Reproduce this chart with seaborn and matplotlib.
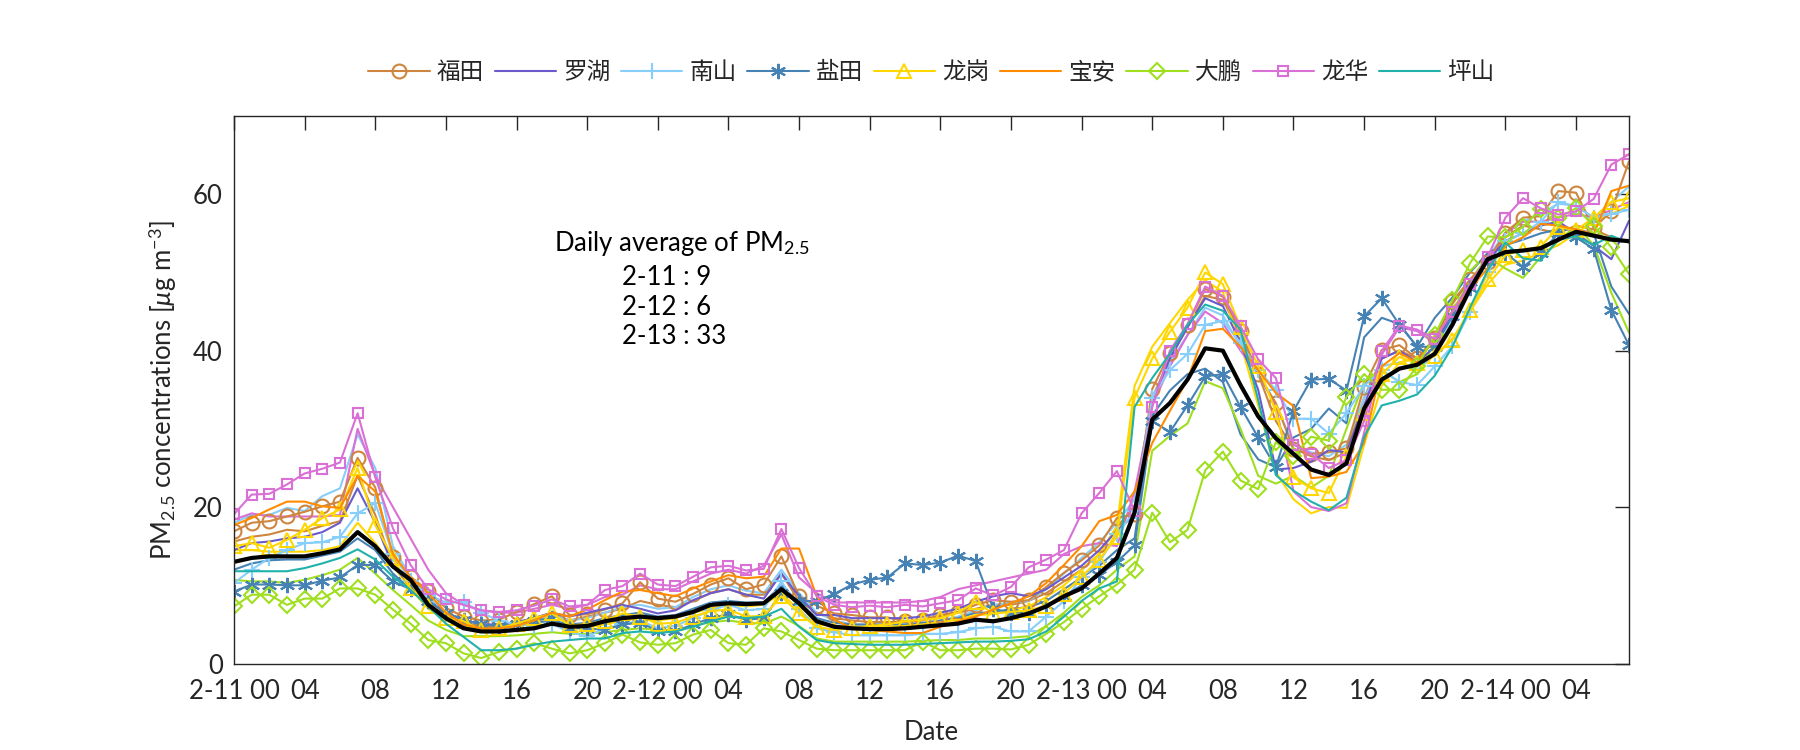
import matplotlib
matplotlib.use("Agg")
import matplotlib.pyplot as plt
import seaborn as sns
import pandas as pd

# ---------------- data ----------------
hours = list(range(80))
tick_pos = list(range(0, 80, 4))
tick_labels = ['2-11 00', '04', '08', '12', '16', '20',
               '2-12 00', '04', '08', '12', '16', '20',
               '2-13 00', '04', '08', '12', '16', '20',
               '2-14 00', '04']

station_names = ['福田', '罗湖', '南山', '盐田', '龙岗', '宝安', '大鹏', '龙华', '坪山']

futian = [16.9, 18.0, 18.2, 18.8, 19.4, 20.1, 20.7, 26.3, 22.5, 13.6, 11.1, 9.3, 7.1, 6.0, 5.5, 5.6, 6.6,
          7.6, 8.6, 6.2, 6.3, 6.9, 7.7, 10.4, 8.3, 7.9, 8.9, 10.1, 10.9, 9.5, 10.1, 13.7, 8.6,
          7.4, 6.4, 6.2, 5.9, 5.9, 5.4, 5.6, 6.2, 6.6, 7.5, 8.1, 7.9, 8.1, 9.8, 11.6, 13.2,
          15.1, 18.6, 19.1, 35.1, 39.7, 43.3, 47.9, 46.9, 42.5, 37.0, 33.3, 27.4, 26.8, 27.0,
          27.5, 35.4, 40.1, 40.7, 39.0, 41.6, 46.3, 49.1, 51.4, 55.1, 57.0, 57.2, 60.4, 60.2, 55.7, 57.8, 64.2]
luohu = [14.5, 15.4, 15.6, 16.0, 16.2, 16.8, 18.0, 22.4, 18.0, 12.5, 10.0, 8.0, 6.5, 5.6, 5.0, 5.0, 5.3,
         5.8, 6.5, 6.0, 6.5, 7.0, 7.5, 7.0, 6.4, 6.8, 8.1, 9.0, 9.5, 8.8, 8.3, 11.5, 8.6,
         6.2, 6.2, 5.8, 5.8, 5.8, 5.8, 6.0, 6.5, 7.0, 7.9, 8.6, 9.0, 8.6, 9.5, 11.0, 12.5,
         14.5, 17.0, 19.0, 33.5, 39.0, 43.0, 46.7, 45.7, 41.0, 35.0, 24.8, 25.0, 25.8, 27.3,
         27.0, 33.0, 39.0, 40.0, 38.5, 40.5, 45.0, 48.5, 51.5, 54.0, 55.0, 56.0, 56.5, 55.0, 53.4, 51.7, 56.6]
nanshan = [10.3, 12.0, 13.5, 14.5, 15.4, 15.5, 16.2, 19.2, 20.5, 14.0, 10.5, 8.8, 7.8, 7.9, 6.5, 5.5, 5.0,
           4.8, 5.1, 4.0, 3.5, 4.5, 5.0, 5.5, 4.5, 4.8, 5.8, 6.8, 7.5, 6.8, 7.0, 10.5, 7.0,
           4.5, 4.0, 3.6, 3.6, 3.6, 3.6, 3.8, 3.8, 4.0, 4.5, 4.7, 4.1, 4.1, 6.0, 8.0, 11.0,
           13.0, 16.5, 19.5, 34.0, 37.5, 39.6, 43.3, 43.8, 41.0, 37.5, 35.0, 31.3, 31.3, 29.4,
           32.0, 35.5, 37.5, 36.0, 35.6, 38.0, 40.6, 45.0, 50.0, 54.0, 55.0, 56.5, 59.0, 58.5, 57.0, 57.5, 58.0]
yantian = [9.2, 10.1, 10.1, 10.0, 10.0, 10.6, 11.0, 12.6, 12.6, 10.5, 9.5, 8.0, 6.5, 5.6, 5.0, 4.8, 5.0,
           5.5, 5.8, 4.5, 4.5, 4.3, 5.0, 5.2, 4.2, 4.1, 5.0, 5.8, 6.3, 5.6, 5.8, 9.0, 8.0,
           8.0, 8.9, 10.1, 10.7, 11.0, 12.8, 12.6, 12.9, 13.8, 13.1, 7.0, 6.5, 6.5, 7.5, 8.6, 10.0,
           11.3, 13.0, 15.1, 31.0, 29.6, 33.0, 36.7, 37.0, 32.8, 28.9, 25.1, 32.3, 36.3, 36.4,
           34.9, 44.4, 46.7, 43.3, 40.5, 40.5, 44.4, 48.0, 51.5, 52.5, 50.7, 52.5, 55.0, 54.5, 53.0, 45.2, 40.7]
longgang = [15.0, 15.4, 14.8, 15.8, 17.1, 18.6, 19.7, 25.0, 17.7, 13.5, 9.6, 7.3, 5.8, 5.4, 4.3, 4.5, 5.1,
            5.8, 6.4, 4.9, 5.0, 5.5, 6.4, 6.0, 5.1, 5.2, 6.0, 6.7, 6.9, 6.0, 6.1, 8.6, 6.4,
            4.7, 4.3, 4.5, 4.8, 5.0, 5.4, 5.6, 5.8, 6.5, 7.9, 6.4, 6.6, 6.8, 7.4, 8.9, 11.1,
            13.3, 16.2, 34.0, 39.0, 42.4, 45.5, 50.0, 48.5, 43.0, 38.0, 32.2, 23.8, 22.4, 21.8,
            26.5, 32.0, 37.0, 39.2, 38.4, 39.3, 41.4, 45.2, 49.1, 52.2, 52.9, 53.3, 55.8, 55.4, 57.0, 59.0, 59.5]
baoan = [17.7, 18.6, 19.7, 20.7, 20.7, 20.1, 19.9, 24.0, 22.0, 14.0, 11.0, 9.0, 6.5, 5.0, 4.5, 4.5, 4.8,
         5.5, 6.5, 6.0, 6.9, 8.1, 9.2, 9.4, 9.0, 8.6, 9.6, 10.5, 11.3, 10.9, 11.1, 14.7, 14.7,
         8.6, 5.6, 4.5, 4.3, 4.1, 3.9, 3.9, 4.7, 5.4, 6.0, 6.9, 7.7, 8.6, 10.3, 12.6, 15.0,
         18.2, 19.0, 22.0, 28.2, 32.3, 36.3, 42.5, 42.8, 40.5, 37.5, 34.6, 32.9, 23.7, 23.9,
         24.5, 28.2, 38.0, 39.7, 38.5, 41.5, 45.0, 48.0, 50.5, 53.4, 54.5, 56.2, 56.0, 55.5, 54.9, 60.4, 61.1]
dapeng = [7.3, 8.8, 8.8, 7.5, 8.3, 8.3, 9.6, 9.6, 8.8, 6.9, 5.1, 3.0, 2.6, 1.3, 0.7, 1.5, 1.9,
          2.6, 1.9, 1.3, 1.7, 2.6, 3.7, 2.7, 2.4, 2.6, 3.7, 4.3, 2.6, 2.4, 4.5, 4.1, 3.0,
          1.9, 1.7, 1.7, 1.7, 1.7, 1.7, 2.8, 1.7, 1.7, 1.9, 1.9, 1.8, 2.4, 3.8, 5.3, 7.0,
          8.6, 10.1, 12.0, 19.3, 15.5, 17.1, 24.7, 27.1, 23.4, 22.3, 28.3, 26.5, 29.0, 28.5,
          34.1, 37.0, 35.0, 35.0, 38.0, 42.0, 46.5, 51.2, 54.6, 54.5, 55.8, 58.1, 57.0, 58.2, 56.0, 53.2, 49.8]
longhua = [19.1, 21.6, 21.7, 22.9, 24.3, 24.9, 25.7, 32.0, 23.8, 17.3, 12.6, 9.5, 8.2, 7.5, 6.8, 6.6, 6.8,
           7.4, 8.2, 7.3, 7.5, 9.4, 9.9, 11.5, 10.1, 9.9, 11.1, 12.3, 12.5, 11.9, 12.1, 17.2, 12.2,
           8.6, 7.5, 7.2, 7.4, 7.2, 7.5, 7.3, 7.7, 8.1, 9.6, 8.7, 9.8, 12.3, 13.3, 14.5, 19.2,
           21.8, 24.6, 19.5, 32.8, 40.0, 43.4, 48.2, 47.0, 43.1, 38.9, 36.5, 28.0, 26.8, 25.0,
           26.0, 31.0, 40.0, 43.2, 42.7, 41.5, 45.0, 48.5, 52.0, 57.0, 59.5, 58.2, 57.4, 57.8, 59.4, 63.8, 65.1]
pingshan = [11.8, 11.8, 11.8, 11.8, 12.2, 12.8, 13.5, 14.6, 13.3, 11.1, 9.4, 7.3, 5.1, 3.4, 1.7, 1.7, 1.9,
            2.4, 2.8, 3.0, 3.2, 3.2, 3.9, 4.1, 3.9, 4.1, 4.7, 5.4, 6.0, 5.8, 6.0, 7.0, 4.7,
            3.0, 2.6, 2.5, 2.4, 2.4, 2.4, 2.5, 2.6, 2.7, 2.8, 2.8, 2.9, 3.1, 4.1, 6.0, 8.0,
            9.6, 10.5, 32.8, 36.5, 39.6, 43.3, 45.9, 45.1, 42.7, 33.7, 24.1, 22.1, 20.7, 19.6,
            21.2, 29.0, 33.0, 33.6, 34.4, 36.8, 40.5, 45.5, 50.3, 53.8, 51.8, 51.5, 54.2, 54.6, 53.5, 54.7, 53.8]

# second (unlabelled) line of the same colour for several stations
futian_b = [15.6, 16.2, 16.5, 17.1, 16.9, 17.6, 18.2, 24.0, 19.0, 12.5, 10.0, 8.0, 6.0, 5.2, 4.8, 4.8, 5.2,
            5.8, 6.5, 5.5, 6.0, 6.5, 7.0, 8.0, 7.5, 7.2, 8.0, 9.0, 9.5, 8.8, 8.8, 11.5, 8.0,
            6.5, 5.8, 5.5, 5.3, 5.3, 5.3, 5.5, 6.0, 6.5, 7.0, 7.5, 7.5, 8.0, 9.0, 10.5, 12.0,
            14.0, 17.5, 20.0, 34.0, 39.0, 43.0, 47.0, 46.5, 42.0, 37.0, 31.0, 27.5, 26.5, 26.0,
            27.0, 34.0, 39.0, 40.0, 39.0, 41.5, 46.0, 49.0, 51.5, 54.5, 56.0, 55.5, 55.0, 56.0, 55.5, 54.5, 54.0]
nanshan_b = [18.0, 19.0, 19.0, 19.9, 19.5, 21.4, 22.4, 29.3, 25.0, 15.0, 11.0, 8.5, 6.5, 5.0, 4.5, 4.5, 4.8,
             5.3, 6.2, 5.5, 5.8, 6.5, 7.2, 7.5, 7.0, 7.2, 8.5, 9.5, 10.0, 9.3, 9.0, 12.0, 9.0,
             6.5, 5.5, 5.0, 4.8, 4.8, 4.8, 5.0, 5.5, 6.0, 6.8, 7.5, 7.8, 8.0, 9.5, 11.5, 13.5,
             15.5, 18.0, 21.0, 34.0, 38.5, 42.0, 45.5, 44.5, 40.5, 37.0, 33.0, 28.0, 27.0, 26.5,
             28.0, 34.0, 38.0, 38.5, 37.5, 39.5, 44.0, 48.0, 52.0, 55.0, 56.5, 57.5, 58.8, 58.5, 57.0, 59.0, 61.0]
yantian_b = [12.0, 12.8, 13.2, 13.3, 13.3, 13.8, 14.3, 16.0, 14.5, 11.5, 9.5, 7.5, 5.5, 4.8, 4.5, 4.5, 4.8,
             5.2, 5.5, 5.0, 5.2, 5.8, 6.2, 6.5, 6.0, 6.2, 7.0, 7.8, 8.0, 7.8, 7.8, 10.0, 7.8,
             5.8, 5.2, 5.0, 5.0, 5.0, 5.0, 5.2, 5.5, 5.8, 6.5, 6.5, 7.0, 7.2, 8.0, 9.5, 11.0,
             12.5, 14.5, 16.0, 31.7, 34.9, 37.0, 37.7, 36.0, 29.3, 26.1, 25.1, 28.9, 30.0, 32.6,
             30.7, 41.7, 44.2, 43.4, 40.5, 44.2, 46.8, 50.0, 52.5, 53.5, 54.2, 55.0, 55.5, 55.5, 55.0, 48.2, 44.7]
longgang_b = [14.5, 14.5, 14.3, 14.3, 14.3, 14.5, 15.0, 18.0, 15.4, 12.5, 9.5, 7.0, 5.5, 4.8, 4.3, 4.2, 4.3,
              4.5, 5.0, 4.5, 4.6, 5.0, 5.5, 5.8, 5.5, 5.8, 6.5, 7.0, 7.5, 7.3, 7.5, 9.0, 6.8,
              5.0, 4.8, 4.7, 4.7, 4.7, 4.8, 5.0, 5.3, 5.6, 6.2, 6.3, 6.8, 7.3, 8.5, 10.0, 12.0,
              14.0, 17.5, 35.5, 40.5, 43.5, 46.5, 49.0, 47.5, 41.0, 33.0, 24.5, 21.0, 19.2, 20.0,
              19.9, 28.0, 35.5, 38.5, 39.0, 39.5, 41.5, 45.0, 48.5, 51.0, 51.5, 52.5, 53.5, 55.0, 56.5, 57.5, 58.5]
dapeng_b = [10.7, 10.5, 10.5, 10.3, 10.7, 11.3, 12.0, 13.5, 11.5, 9.4, 7.5, 5.5, 4.3, 3.5, 3.5, 3.5, 3.6,
            3.8, 4.0, 3.8, 3.8, 4.0, 4.3, 4.5, 4.3, 4.3, 4.8, 5.3, 5.5, 5.2, 5.1, 6.0, 4.8,
            3.2, 2.8, 2.8, 2.8, 2.8, 2.8, 2.9, 3.0, 3.0, 3.2, 3.2, 3.3, 3.5, 4.8, 6.5, 8.5,
            10.0, 12.0, 13.7, 27.2, 29.1, 30.7, 36.1, 35.2, 30.0, 24.0, 23.0, 24.0, 22.5, 24.0,
            30.0, 36.0, 37.5, 36.0, 37.0, 41.0, 45.0, 49.0, 52.0, 50.5, 49.3, 52.0, 54.0, 56.0, 53.5, 47.4, 42.3]
longhua_b = [18.4, 19.2, 18.8, 18.8, 18.8, 18.8, 19.0, 30.0, 24.0, 20.0, 16.0, 12.0, 9.0, 7.5, 6.8, 6.5, 6.5,
             7.0, 7.5, 7.0, 7.5, 8.5, 8.8, 10.0, 9.5, 9.5, 10.5, 11.5, 12.0, 11.5, 12.5, 16.5, 11.0,
             9.0, 7.8, 7.8, 7.8, 7.8, 7.8, 8.0, 8.5, 9.5, 10.0, 10.5, 11.0, 11.5, 12.0, 14.0, 15.0,
             15.4, 15.0, 22.0, 33.0, 38.0, 42.0, 45.0, 43.5, 40.0, 37.0, 33.0, 22.0, 20.0, 19.5,
             20.5, 29.5, 39.5, 43.0, 42.5, 41.0, 45.0, 48.0, 51.5, 55.0, 56.5, 56.5, 57.0, 57.5, 57.0, 58.0, 59.0]

city_mean = [13.0, 13.5, 13.7, 13.7, 13.7, 14.1, 14.6, 16.8, 15.0, 12.4, 10.7, 7.5, 5.8, 4.5, 4.1, 4.1, 4.3,
             4.5, 5.1, 4.7, 4.8, 5.4, 5.8, 6.0, 5.8, 6.0, 6.6, 7.5, 7.7, 7.6, 7.7, 9.5, 7.7,
             5.4, 4.7, 4.5, 4.4, 4.4, 4.5, 4.7, 4.9, 5.1, 5.6, 5.4, 5.8, 6.4, 7.3, 8.6, 9.6,
             11.5, 13.5, 19.3, 31.2, 33.3, 36.3, 40.3, 40.0, 35.6, 31.6, 28.8, 26.8, 24.8, 24.1,
             25.6, 32.6, 36.3, 37.7, 38.2, 39.6, 43.3, 47.9, 51.7, 52.6, 52.8, 53.1, 54.2, 55.2, 54.7, 54.2, 54.0]

annot_title = 'Daily average of PM$_{2.5}$'
annot_lines = ['2-11 : 9', '2-12 : 6', '2-13 : 33']

# ---------------- style ----------------
sns.set_style('white')
plt.rcParams['font.family'] = ['Lato', 'Noto Sans CJK SC', 'DejaVu Sans']
plt.rcParams['mathtext.fontset'] = 'custom'
plt.rcParams['mathtext.rm'] = 'Lato'
plt.rcParams['mathtext.it'] = 'Lato:italic'
plt.rcParams['mathtext.bf'] = 'Lato:bold'
TXT = '#262626'

primary = [
    (futian,   '#CD853F', 'o',        10,  True),
    (luohu,    '#6A5ACD', None,       0,   False),
    (nanshan,  '#87CEFA', '+',        11,  False),
    (yantian,  '#4682B4', (6, 2, 0),  11,  False),
    (longgang, '#FFD700', '^',        10,  True),
    (baoan,    '#FF8C00', None,       0,   False),
    (dapeng,   '#9FDF1E', 'D',        8.5, True),
    (longhua,  '#DA70D6', 's',        7.5, True),
    (pingshan, '#20B2AA', None,       0,   False),
]
secondary = [
    (futian_b,   '#CD853F'),
    (nanshan_b,  '#87CEFA'),
    (yantian_b,  '#4682B4'),
    (longgang_b, '#FFD700'),
    (dapeng_b,   '#9FDF1E'),
    (longhua_b,  '#DA70D6'),
]

fig = plt.figure(figsize=(18, 7.5), dpi=100)
ax = fig.add_axes([0.13, 0.1153, 0.775, 0.7300])

for vals, col in secondary:
    df = pd.DataFrame({'hour': hours, 'pm': vals})
    sns.lineplot(data=df, x='hour', y='pm', ax=ax, color=col, linewidth=1.5,
                 legend=False)

handles = []
for name, (vals, col, mk, ms, hollow) in zip(station_names, primary):
    df = pd.DataFrame({'hour': hours, 'pm': vals})
    kw = dict(color=col, linewidth=1.5)
    if mk is not None:
        kw.update(marker=mk, markersize=ms, markeredgecolor=col, markeredgewidth=1.5)
        if hollow:
            kw.update(markerfacecolor='none')
    sns.lineplot(data=df, x='hour', y='pm', ax=ax, legend=False, **kw)
    handles.append(ax.get_lines()[-1])

dfm = pd.DataFrame({'hour': hours, 'pm': city_mean})
sns.lineplot(data=dfm, x='hour', y='pm', ax=ax, color='black', linewidth=3.0, legend=False)

# axes
ax.set_xlim(0, 79)
ax.set_ylim(0, 70)
ax.set_xticks(tick_pos)
ax.set_xticklabels(tick_labels)
ax.set_yticks([0, 20, 40, 60])
ax.tick_params(axis='both', direction='in', length=10, width=1, colors=TXT,
               top=True, right=True, labelsize=18.5)
ax.tick_params(axis='x', pad=11)
ax.tick_params(axis='y', pad=8)
for sp in ax.spines.values():
    sp.set_visible(True)
    sp.set_color(TXT)
    sp.set_linewidth(1.0)
ax.set_xlabel('Date', fontsize=18.5, color=TXT, labelpad=12)
ax.set_ylabel('PM$_{2.5}$ concentrations [$\\mu$g m$^{-3}$]', fontsize=18.5, color=TXT, labelpad=10)

# annotation
ax.text(18.1, 53.7, annot_title, fontsize=18.5, color='black', va='center', ha='left')
for txt, yv in zip(annot_lines, [49.3, 45.5, 41.8]):
    ax.text(22.0, yv, txt, fontsize=18.5, color='black', va='center', ha='left')

leg = fig.legend(handles, station_names, loc='center', bbox_to_anchor=(0.5175, 0.904),
                 ncol=9, frameon=False, fontsize=17, handlelength=2.6,
                 handletextpad=0.3, columnspacing=0.45, numpoints=1)
for t in leg.get_texts():
    t.set_color(TXT)

fig.savefig('out.png', dpi=100)
